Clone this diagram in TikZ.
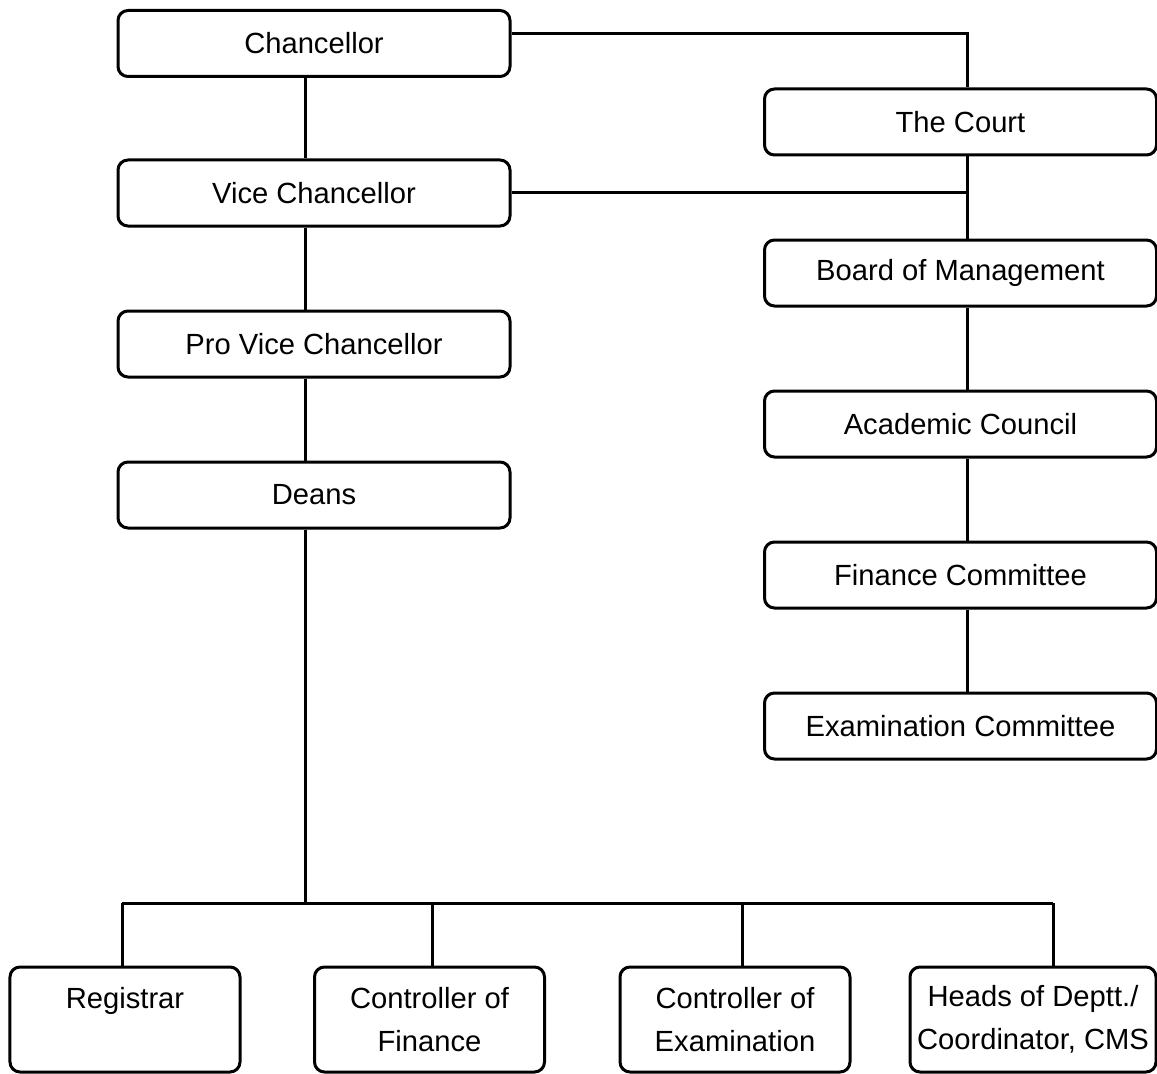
\documentclass[tikz,border=0pt]{standalone}
\usepackage{fontspec}
\setmainfont{Liberation Sans}
\usetikzlibrary{calc}

\tikzset{
	unitbox/.style={draw, rounded corners=0.2cm, line width=0.6mm, inner sep=0pt,
		minimum width=7.84cm, minimum height=1.32cm, font=\fontsize{16.6}{24.5}\selectfont},
	lowbox/.style={unitbox, align=center, minimum width=4.6cm, minimum height=2.1cm},
	link/.style={line width=0.6mm}
}

\begin{document}
\begin{tikzpicture}
		%%%%% START %%%%%
		\useasboundingbox (0, 0) rectangle (23.14, -21.48);
		
		\coordinate (lx) at (6.1, 0);
		\coordinate (rx) at (19.34, 0);
		\coordinate (bus) at (6.1, -18.06);
		
		% left column
		\node[unitbox] (chan) at (6.28, -0.87) {Chancellor};
		\node[unitbox] (vc) at (6.28, -3.86) {Vice Chancellor};
		\node[unitbox] (pvc) at (6.28, -6.88) {Pro Vice Chancellor};
		\node[unitbox] (deans) at (6.28, -9.9) {Deans};
		
		% right column
		\node[unitbox] (court) at (19.21, -2.44) {The Court};
		\node[unitbox] (board) at (19.21, -5.46) {Board of Management};
		\node[unitbox] (acad) at (19.21, -8.48) {Academic Council};
		\node[unitbox] (fin) at (19.21, -11.5) {Finance Committee};
		\node[unitbox] (exam) at (19.21, -14.52) {Examination Committee};
		
		% bottom row
		\node[lowbox] (reg) at (2.5, -20.39) {Registrar\\\mbox{}};
		\node[lowbox] (cof) at (8.59, -20.39) {Controller of\\Finance};
		\node[lowbox] (coe) at (14.7, -20.39) {Controller of\\Examination};
		\node[lowbox, minimum width=4.92cm] (heads) at (20.66, -20.39) {Heads of Deptt./\\Coordinator, CMS};
		
		\draw[link] (chan.south -| lx) -- (vc.north -| lx);
		\draw[link] (vc.south -| lx) -- (pvc.north -| lx);
		\draw[link] (pvc.south -| lx) -- (deans.north -| lx);
		\draw[link] (deans.south -| lx) -- (bus);
		
		\draw[link] ([yshift=0.19cm]chan.east) -| (court.north -| rx);
		\draw[link] (vc.east) -- (vc.east -| rx);
		\draw[link] (court.south -| rx) -- (board.north -| rx);
		\draw[link] (board.south -| rx) -- (acad.north -| rx);
		\draw[link] (acad.south -| rx) -- (fin.north -| rx);
		\draw[link] (fin.south -| rx) -- (exam.north -| rx);
		
		\draw[link] ([xshift=-0.06cm]reg.north |- bus) -- ([xshift=0.4cm]heads.north |- bus);
		\foreach \n/\dx in {reg/-0.06, cof/0.05, coe/0.14, heads/0.4}
			\draw[link] ([xshift=\dx cm]\n.north) -- ([xshift=\dx cm]\n.north |- bus);
		
		%%%%% END %%%%%
\end{tikzpicture}
\end{document}
